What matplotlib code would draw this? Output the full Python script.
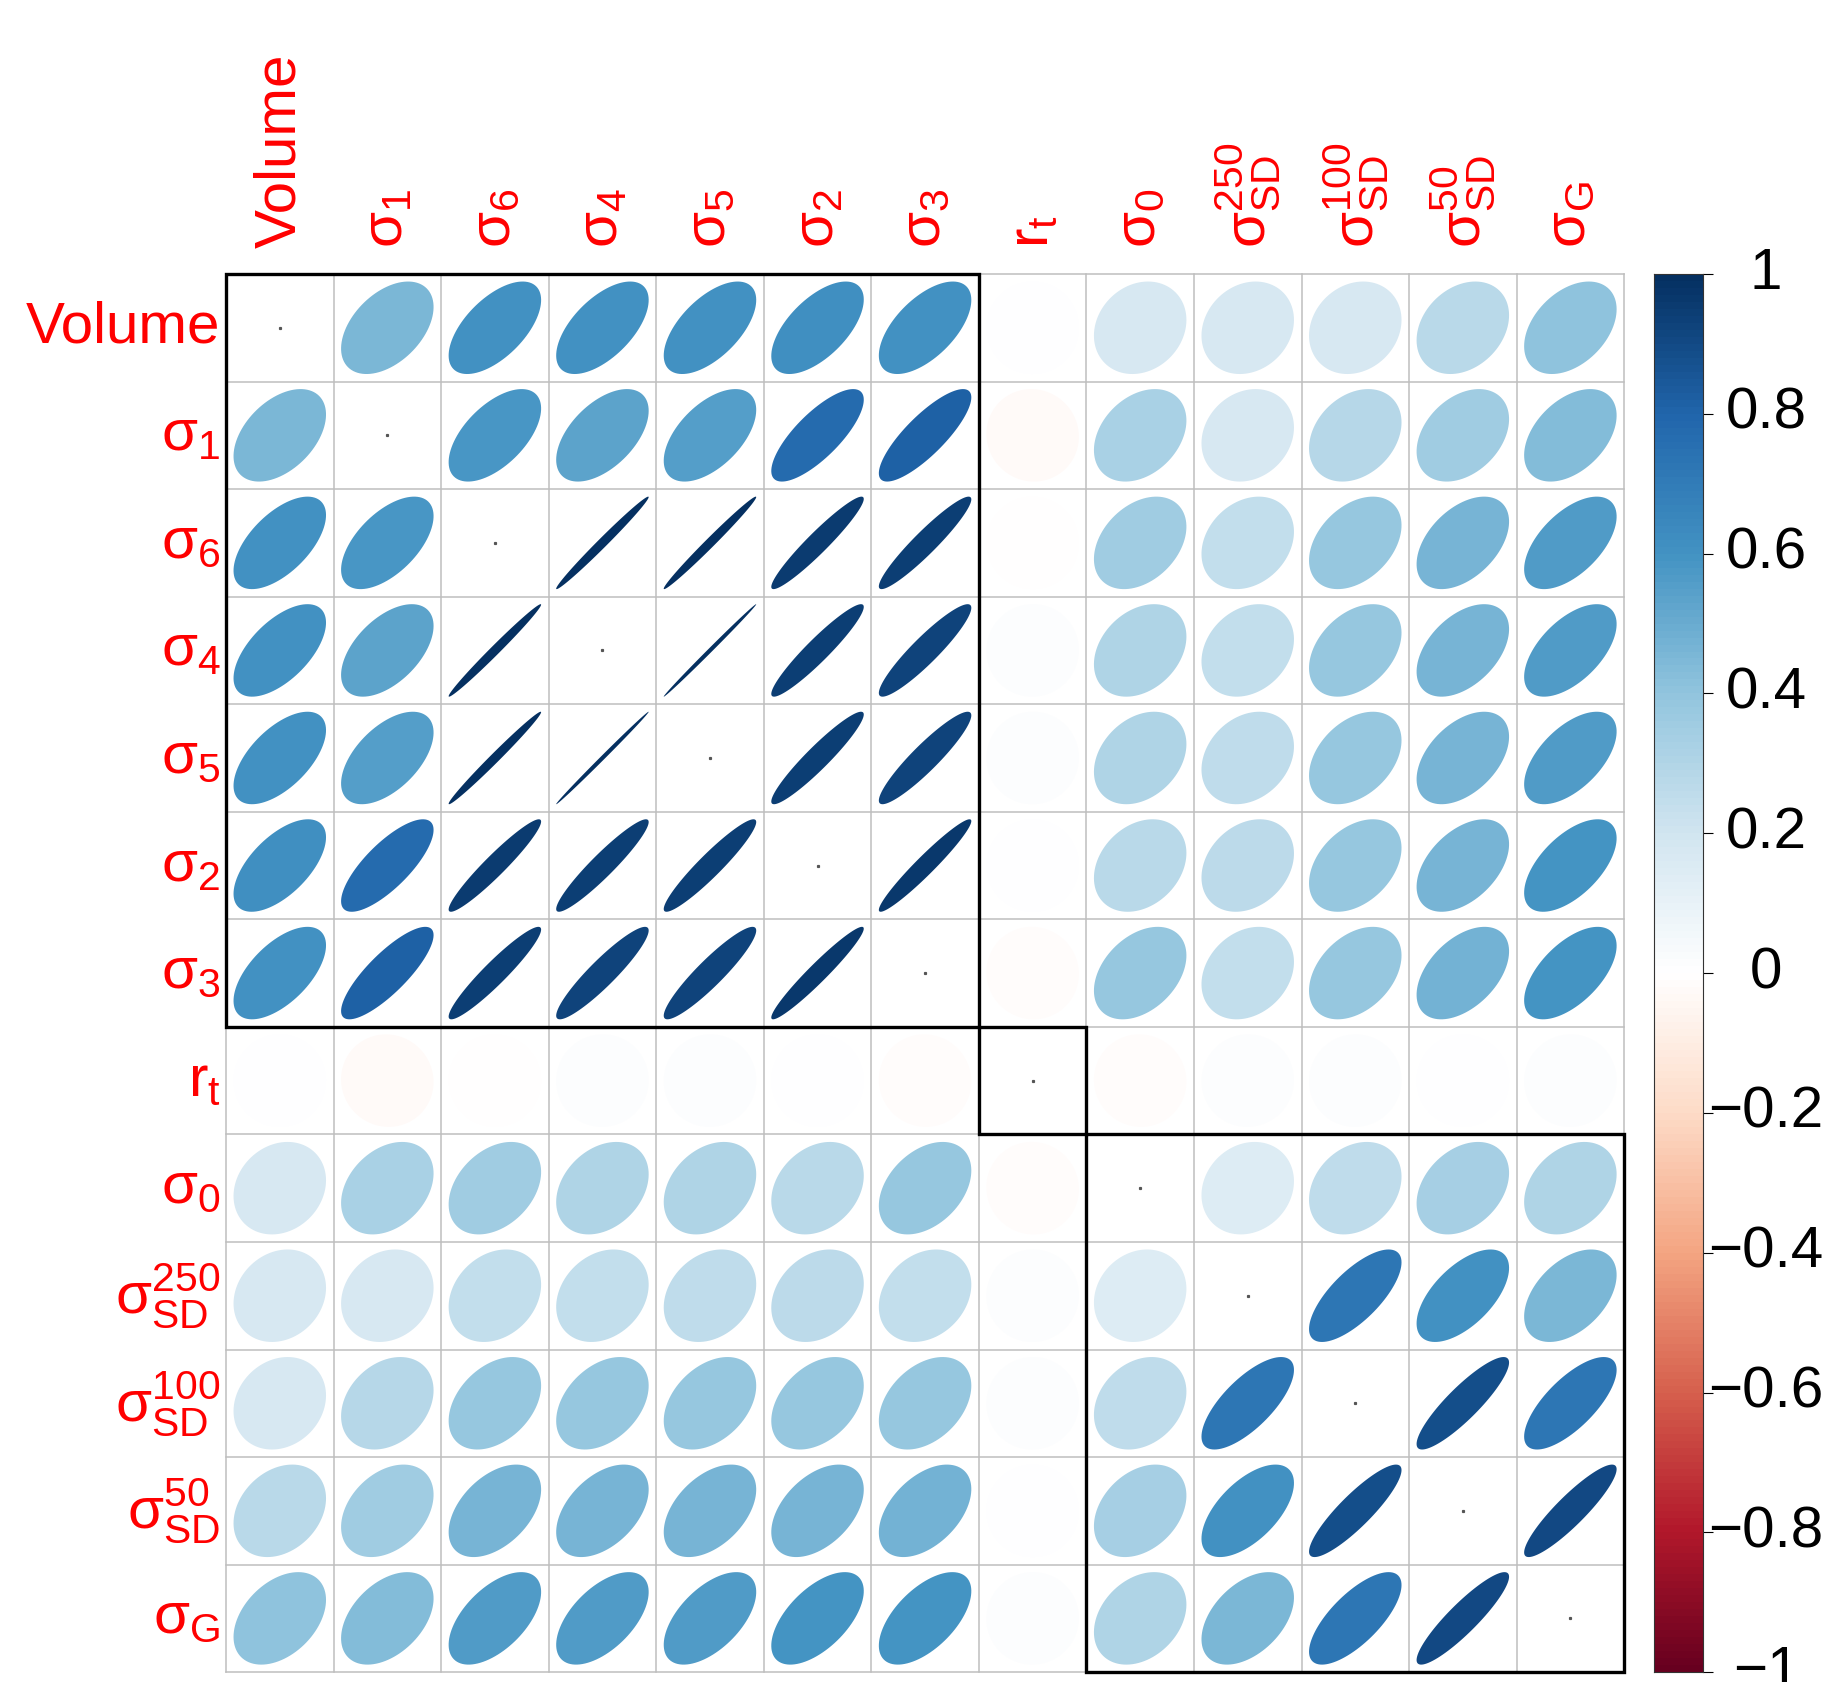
import numpy as np
import matplotlib
matplotlib.use("Agg")
import matplotlib.pyplot as plt
from matplotlib.colors import LinearSegmentedColormap, Normalize
from matplotlib.patches import Polygon, Rectangle
import matplotlib.transforms as mtransforms

plt.rcParams['font.family'] = ['Liberation Sans', 'DejaVu Sans']
plt.rcParams['mathtext.fontset'] = 'custom'
plt.rcParams['mathtext.rm'] = 'Liberation Sans'
plt.rcParams['mathtext.it'] = 'Liberation Sans'
plt.rcParams['mathtext.bf'] = 'Liberation Sans:bold'
plt.rcParams['mathtext.default'] = 'regular'

labels = ['Volume', r'$\sigma_1$', r'$\sigma_6$', r'$\sigma_4$', r'$\sigma_5$',
          r'$\sigma_2$', r'$\sigma_3$', r'$r_t$', r'$\sigma_0$',
          r'$\sigma_{SD}^{250}$', r'$\sigma_{SD}^{100}$', r'$\sigma_{SD}^{50}$',
          r'$\sigma_G$']

# upper triangle of the correlation matrix, row by row (diagonal excluded)
upper = [
    [0.45, 0.60, 0.60, 0.60, 0.61, 0.60, 0.00, 0.17, 0.17, 0.17, 0.27, 0.40],
    [0.58, 0.53, 0.55, 0.77, 0.82, -0.03, 0.32, 0.17, 0.28, 0.35, 0.43],
    [0.99, 0.99, 0.95, 0.94, -0.005, 0.35, 0.24, 0.38, 0.46, 0.57],
    [0.998, 0.94, 0.92, 0.01, 0.30, 0.24, 0.38, 0.46, 0.57],
    [0.94, 0.92, 0.01, 0.30, 0.25, 0.38, 0.46, 0.57],
    [0.96, 0.00, 0.27, 0.26, 0.38, 0.46, 0.59],
    [-0.02, 0.38, 0.24, 0.38, 0.47, 0.59],
    [-0.02, 0.01, 0.01, 0.00, 0.01],
    [0.15, 0.25, 0.33, 0.30],
    [0.72, 0.60, 0.45],
    [0.88, 0.72],
    [0.90],
]

clusters = [(0, 7), (7, 1), (8, 5)]   # (start, size)
cbar_ticks = [-1, -0.8, -0.6, -0.4, -0.2, 0, 0.2, 0.4, 0.6, 0.8, 1]

n = len(labels)
corr = np.eye(n)
for i, row in enumerate(upper):
    for k, v in enumerate(row):
        j = i + 1 + k
        corr[i, j] = v
        corr[j, i] = v

col2 = ["#67001F", "#B2182B", "#D6604D", "#F4A582", "#FDDBC7", "#FFFFFF",
        "#D1E5F0", "#92C5DE", "#4393C3", "#2166AC", "#053061"]
cmap = LinearSegmentedColormap.from_list('rdbu', col2, N=200)
norm = Normalize(-1, 1)

W, H = 1826, 1682
fig = plt.figure(figsize=(W / 100, H / 100), dpi=100)
gl, gt, gs = 226, 274, 107.55
ax = fig.add_axes([gl / W, 1 - (gt + n * gs) / H, n * gs / W, n * gs / H])
ax.set_xlim(0, n)
ax.set_ylim(n, 0)
ax.axis('off')

# grid
for k in range(n + 1):
    ax.plot([k, k], [0, n], color='#BEBEBE', lw=1.1, zorder=1, clip_on=False)
    ax.plot([0, n], [k, k], color='#BEBEBE', lw=1.1, zorder=1, clip_on=False)

t = np.linspace(0, 2 * np.pi, 99)
s = 0.86
for i in range(n):
    for j in range(n):
        cx, cy = j + 0.5, i + 0.5
        if i == j:
            ax.plot(cx, cy, marker='s', ms=1.3, color='#555555', zorder=3)
            continue
        r = corr[i, j]
        d = np.arccos(r)
        ex = np.cos(t + d / 2) / 2 * s
        ey = np.cos(t - d / 2) / 2 * s
        poly = Polygon(np.column_stack([cx + ex, cy - ey]), closed=True,
                       facecolor=cmap(norm(r)), edgecolor='none', zorder=2)
        ax.add_patch(poly)

for start, size in clusters:
    ax.add_patch(Rectangle((start, start), size, size, fill=False,
                           ec='black', lw=2.4, zorder=4, clip_on=False))

for k, lab in enumerate(labels):
    ax.text(-0.05, k + 0.5, lab, color='red', fontsize=42, ha='right',
            va='center', clip_on=False)
    ax.text(k + 0.5, -0.24, lab, color='red', fontsize=42, ha='center',
            va='bottom', rotation=90, clip_on=False)

# colorbar
cl, cw = 1653.6, 49
cax = fig.add_axes([cl / W, 1 - (gt + n * gs) / H, cw / W, n * gs / H])
levels = np.linspace(-1, 1, 201)
cax.pcolormesh([0, 1], levels, ((levels[:-1] + levels[1:]) / 2)[:, None],
               cmap=cmap, norm=norm, shading='flat')
cax.set_xlim(0, 1)
cax.set_ylim(-1, 1)
cax.set_xticks([])
cax.set_yticks(cbar_ticks)
cax.tick_params(axis='y', left=False, right=True, labelleft=False,
                labelright=False, length=7, width=0.8, direction='out')
for sp in cax.spines.values():
    sp.set_linewidth(0.8)
    sp.set_color('#333333')
trans = mtransforms.blended_transform_factory(cax.transAxes, cax.transData)
for v in cbar_ticks:
    txt = '0' if v == 0 else ('%g' % v).replace('-', '\u2212')
    cax.text((1766 - cl) / cw, v, txt, transform=trans, fontsize=42,
             ha='center', va='center', clip_on=False)

fig.savefig('out.png', dpi=100)
